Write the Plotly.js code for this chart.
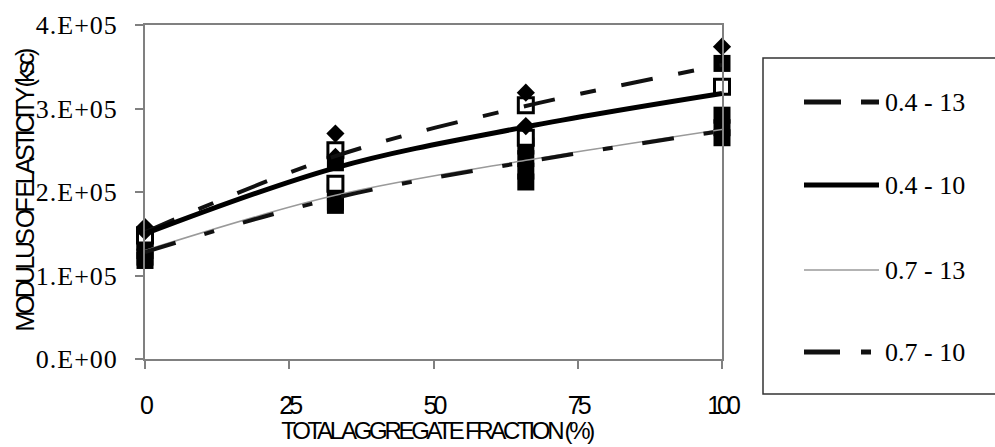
<!DOCTYPE html>
<html>
<head>
<meta charset="utf-8">
<script src="https://cdn.plot.ly/plotly-3.0.1.min.js"></script>
<style>
  html, body { margin: 0; padding: 0; background: #fff; }
  #chart { width: 995px; height: 447px; }
</style>
</head>
<body>
<div id="chart"></div>
<script>
// Aggregate fraction (%) at which specimens were tested
const fractions = [0, 33, 66, 100];

// Measured modulus of elasticity (ksc), grouped by marker style
const diamondsA = [158000, 270000, 319000, 374000];
const diamondsB = [153000, 242000, 279000, null];
const openSquaresA = [148000, 250000, 304000, 326000];
const openSquaresB = [null, 210000, 265000, null];
const filledSquaresA = [140000, 235000, 255000, 354000];
const filledSquaresB = [130000, 200000, 240000, 292000];
const filledSquaresC = [122000, 188000, 225000, 277000];
const filledSquaresD = [118000, 184000, 212000, 265000];

// Fitted trend curves (ksc) for each mix
const seriesNames = ['0.4 - 13', '0.4 - 10', '0.7 - 13', '0.7 - 10'];
const trend_04_13 = [152000, 243000, 303000, 352000];
const trend_04_10 = [150000, 229000, 278000, 318000];
const trend_07_13 = [130000, 196000, 238000, 275000];
const trend_07_10 = [128000, 193000, 236000, 273000];

// Axis ticks and titles
const yTickVals = [0, 100000, 200000, 300000, 400000];
const yTickText = ['0.E+00', '1.E+05', '2.E+05', '3.E+05', '4.E+05'];
const xTickVals = [0, 25, 50, 75, 100];
const xTitle = 'TOTAL AGGREGATE FRACTION (%)';
const yTitle = 'MODULUS OF ELASTICITY (ksc)';

const serif = 'Liberation Serif, Times New Roman, serif';
const narrow = 'Liberation Sans Narrow, Arial Narrow, Liberation Sans, Arial, sans-serif';

function pts(y, symbol, size, fill, lineW) {
  return {
    x: fractions, y: y, type: 'scatter', mode: 'markers', showlegend: false,
    hoverinfo: 'skip', cliponaxis: false,
    marker: { symbol: symbol, size: size, color: fill, line: { color: '#000', width: lineW } }
  };
}

const lineStyles = [
  { data: trend_04_13, color: '#111', width: 4, dash: '32px,26px,16px,26px' },
  { data: trend_04_10, color: '#000', width: 5, dash: 'solid' },
  { data: trend_07_13, color: '#9a9a9a', width: 1.5, dash: 'solid' },
  { data: trend_07_10, color: '#111', width: 4, dash: '32px,30px,10px,30px' }
];

const traces = [
  pts(filledSquaresD, 'square', 17, '#000', 0),
  pts(filledSquaresC, 'square', 17, '#000', 0),
  pts(filledSquaresB, 'square', 17, '#000', 0),
  pts(filledSquaresA, 'square', 17, '#000', 0),
  pts(openSquaresB, 'square', 15, '#fff', 3),
  pts(openSquaresA, 'square', 15, '#fff', 3),
  pts(diamondsB, 'diamond', 14, '#000', 0),
  pts(diamondsA, 'diamond', 14, '#000', 0)
];

lineStyles.forEach((s, i) => {
  traces.push({
    x: fractions, y: s.data, type: 'scatter', mode: 'lines', name: seriesNames[i],
    showlegend: false, hoverinfo: 'skip',
    line: { color: s.color, width: s.width, dash: s.dash, shape: 'spline', smoothing: 1 }
  });
});

// Hand-laid legend box to the right of the plot
const plotL = 145, plotR = 722, plotT = 25, plotB = 359;
const px = v => (v - plotL) / (plotR - plotL);
const py = v => (plotB - v) / (plotB - plotT);
const legendRows = [102, 185, 270, 352];
const legendDash = ['37px,20px,18px,20px', 'solid', 'solid', '36px,21px,10px,40px'];

const shapes = [{
  type: 'rect', xref: 'paper', yref: 'paper',
  x0: px(763), x1: px(1000), y0: py(394), y1: py(58),
  line: { color: '#333', width: 1.5 }, fillcolor: 'rgba(0,0,0,0)'
}];
const annotations = [];
legendRows.forEach((row, i) => {
  const s = lineStyles[i];
  shapes.push({
    type: 'line', xref: 'paper', yref: 'paper',
    x0: px(804), x1: px(879), y0: py(row), y1: py(row),
    line: { color: s.color, width: i === 2 ? 1.5 : 5, dash: legendDash[i] }
  });
  annotations.push({
    xref: 'paper', yref: 'paper', x: px(883), y: py(row), xanchor: 'left', yanchor: 'middle',
    text: seriesNames[i], showarrow: false, font: { family: serif, size: 26, color: '#000' }
  });
});

// Axis titles, set as condensed text under and beside the plot
annotations.push({
  xref: 'paper', yref: 'paper', x: px(436), y: py(430), xanchor: 'center', yanchor: 'middle',
  text: xTitle, showarrow: false, font: { family: narrow, size: 24, color: '#000' }
});
annotations.push({
  xref: 'paper', yref: 'paper', x: px(25), y: py(192), xanchor: 'center', yanchor: 'middle',
  text: yTitle, textangle: -90, showarrow: false, font: { family: narrow, size: 25, color: '#000' }
});

const layout = {
  width: 995, height: 447,
  margin: { l: plotL, r: 995 - plotR, t: plotT, b: 447 - plotB },
  paper_bgcolor: '#fff', plot_bgcolor: '#fff',
  showlegend: false,
  xaxis: {
    range: [0, 100], tickvals: xTickVals, ticks: 'outside', ticklen: 8, tickcolor: '#808080', tickwidth: 2,
    ticklabelstandoff: 15,
    showline: true, mirror: true, linecolor: '#808080', linewidth: 2, showgrid: false, zeroline: false,
    tickfont: { family: narrow, size: 25, color: '#000' }
  },
  yaxis: {
    range: [0, 400000], tickvals: yTickVals, ticktext: yTickText, ticks: 'outside', ticklen: 8,
    tickcolor: '#808080', tickwidth: 2, ticklabelstandoff: 12,
    showline: true, mirror: true, linecolor: '#808080', linewidth: 2, showgrid: false, zeroline: false,
    tickfont: { family: serif, size: 26, color: '#000' }
  },
  shapes: shapes,
  annotations: annotations
};

function tighten() {
  document.querySelectorAll('.annotation text').forEach(el => {
    const t = el.textContent;
    if (t === xTitle) el.style.letterSpacing = '-3.3px';
    if (t === yTitle) el.style.letterSpacing = '-3.6px';
  });
  document.querySelectorAll('.xtick text').forEach(el => { el.style.letterSpacing = '-4px'; });
  document.querySelectorAll('.ytick text').forEach(el => { el.style.letterSpacing = '1px'; });
}

Plotly.newPlot('chart', traces, layout, { staticPlot: true }).then(tighten);
</script>
</body>
</html>
